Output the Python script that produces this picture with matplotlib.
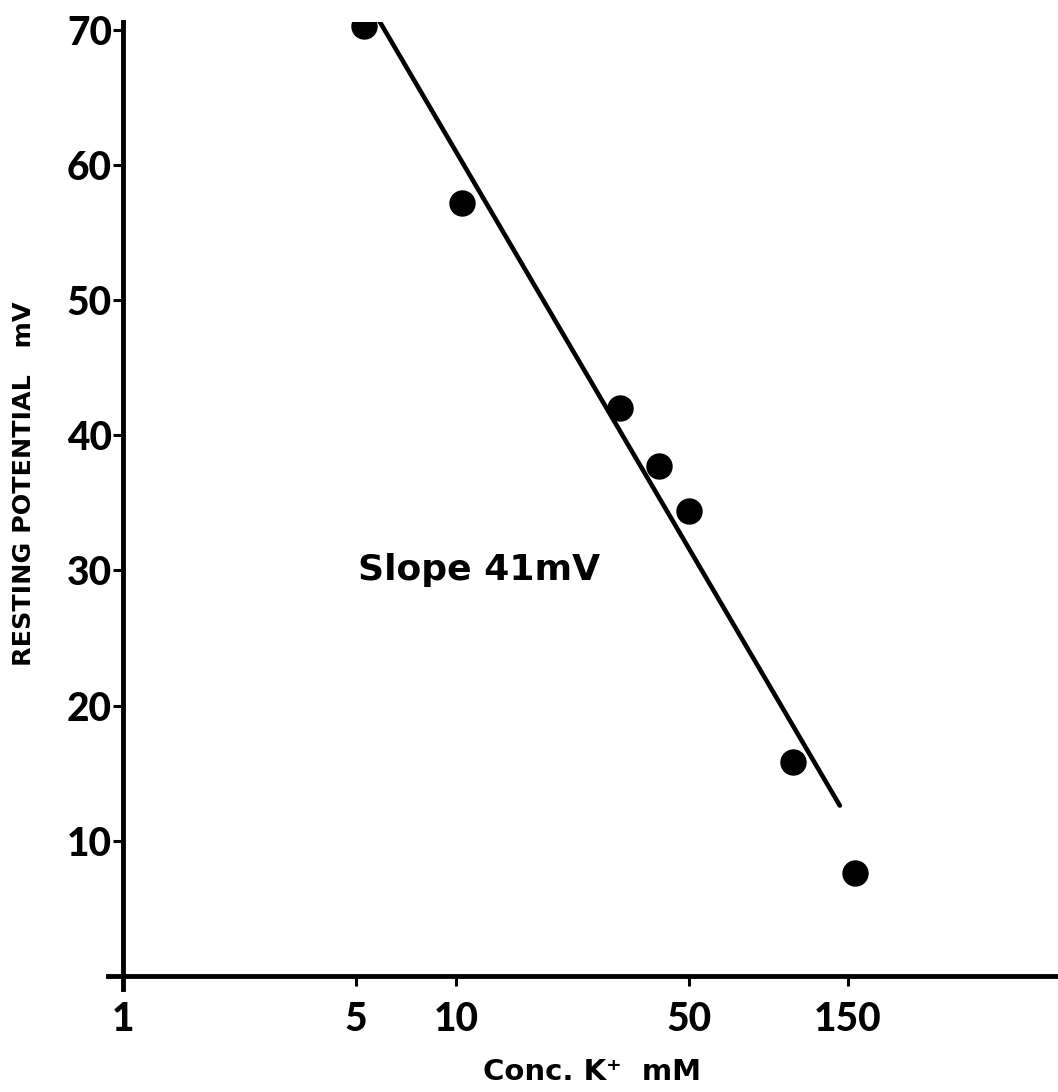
import matplotlib
matplotlib.use("Agg")
import matplotlib.pyplot as plt
from matplotlib.ticker import FixedLocator, NullLocator

# data
conc = [5.3, 10.4, 31.0, 40.7, 50.0, 103.0, 158.0]       # K+ mM
rest_pot = [70.3, 57.2, 42.0, 37.7, 34.4, 15.8, 7.6]     # mV

# fitted line end points
fit_conc = [5.9, 142.0]
fit_pot = [70.6, 12.6]

xticks = [1, 5, 10, 50, 150]
xtick_labels = ["1", "5", "10", "50", "150"]
yticks = [10, 20, 30, 40, 50, 60, 70]

tick_font = ["Lato", "DejaVu Sans"]
narrow_font = ["Liberation Sans Narrow", "DejaVu Sans"]

fig = plt.figure(figsize=(10.58, 10.92), dpi=100)
ax = fig.add_axes([0.102, 0.094, 0.898, 0.886])

ax.plot(fit_conc, fit_pot, color="black", lw=3.3, solid_capstyle="round")
ax.plot(conc, rest_pot, "o", color="black", ms=18)

ax.set_xscale("log")
ax.set_xlim(0.9, 642)
ax.set_ylim(-1.0, 70.6)

for s in ["top", "right"]:
    ax.spines[s].set_visible(False)
ax.spines["left"].set_position(("data", 1))
ax.spines["bottom"].set_position(("data", 0))
ax.spines["left"].set_linewidth(3.5)
ax.spines["bottom"].set_linewidth(3.5)

ax.xaxis.set_major_locator(FixedLocator(xticks))
ax.xaxis.set_minor_locator(NullLocator())
ax.set_xticklabels(xtick_labels)
ax.set_yticks(yticks)

ax.tick_params(axis="both", direction="out", length=7, width=2.2,
               labelsize=28, colors="black")
ax.tick_params(axis="y", pad=1)
ax.tick_params(axis="x", pad=11)
for lab in ax.get_xticklabels() + ax.get_yticklabels():
    lab.set_family(tick_font)
    lab.set_fontweight(900)

fig.text(24 / 1058, 1 - 484 / 1092, "RESTING POTENTIAL   mV", rotation=90,
         ha="center", va="center", fontsize=18.3, fontweight="bold",
         family=narrow_font)
fig.text(592 / 1058, 1 - 1072 / 1092, "Conc. K\u207a  mM", ha="center",
         va="center", fontsize=21, fontweight="bold", family=narrow_font)
fig.text(358 / 1058, 1 - 570 / 1092, "Slope 41mV", ha="left", va="center",
         fontsize=26, fontweight="bold", family=["DejaVu Sans"])

fig.savefig("out.png", dpi=100)
